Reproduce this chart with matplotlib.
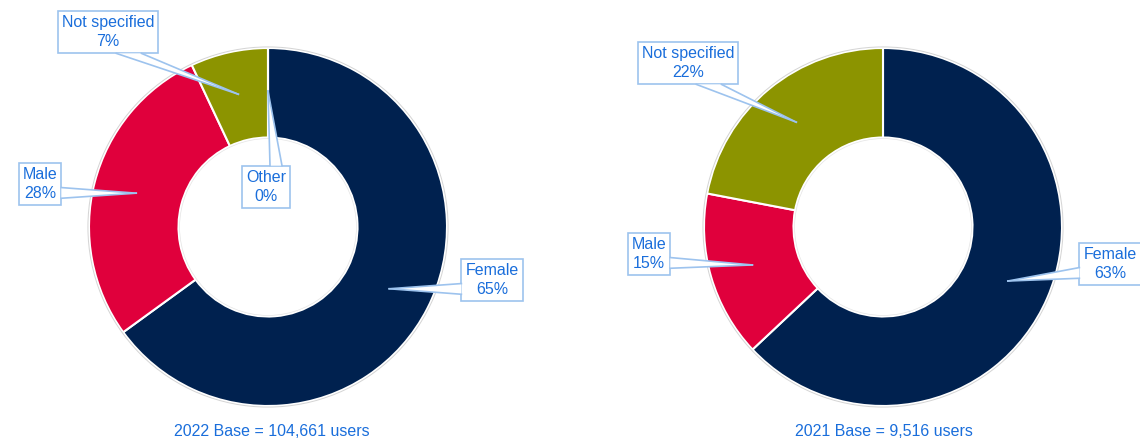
import matplotlib
matplotlib.use("Agg")
import numpy as np
import matplotlib.pyplot as plt
from matplotlib.patches import Polygon, Circle
from matplotlib.lines import Line2D

plt.rcParams["font.family"] = ["Liberation Sans", "DejaVu Sans"]

# ---------------------------------------------------------------------------
# Data
# ---------------------------------------------------------------------------
CATEGORIES_2022 = ["Female", "Male", "Not specified", "Other"]
SHARES_2022 = [65, 28, 7, 0]
CATEGORIES_2021 = ["Female", "Male", "Not specified"]
SHARES_2021 = [63, 15, 22]
CAPTION_2022 = "2022 Base = 104,661 users"
CAPTION_2021 = "2021 Base = 9,516 users"

# ---------------------------------------------------------------------------
# Style / layout (pixels, y measured from top of image)
# ---------------------------------------------------------------------------
COLORS = {"Female": "#00214F", "Male": "#E0003C",
          "Not specified": "#8C9400", "Other": "#8C8C8C"}
TEXT_BLUE = "#1A6EDB"
BOX_EDGE = "#9DC3EE"
FONT = 11.5

W, H = 1140, 441
R = 179  # outer radius in px

PANELS = [
    dict(cats=CATEGORIES_2022, vals=SHARES_2022, caption=CAPTION_2022,
         span=(0, 570), center=(268, 227), caption_xy=(272, 431),
         boxes={"Female": (492, 280), "Male": (40, 184),
                "Not specified": (108, 32), "Other": (266, 187)}),
    dict(cats=CATEGORIES_2021, vals=SHARES_2021, caption=CAPTION_2021,
         span=(570, 1140), center=(883, 227), caption_xy=(884, 432),
         boxes={"Female": (1110, 264), "Male": (649, 254),
                "Not specified": (688, 63)}),
]

fig = plt.figure(figsize=(W / 100, H / 100), dpi=100)

callouts = []
for p in PANELS:
    x0, x1 = p["span"]
    cx, cy_top = p["center"]
    cy = H - cy_top
    ax = fig.add_axes([x0 / W, 0, (x1 - x0) / W, 1])

    def px(x, y_top, cx=cx, cy=cy):
        return (x - cx) / R, (H - y_top - cy) / R

    wedges, _ = ax.pie(p["vals"], colors=[COLORS[c] for c in p["cats"]],
                       startangle=90, counterclock=False, radius=1,
                       wedgeprops=dict(width=0.5, edgecolor="white", linewidth=1.5))
    ax.add_patch(Circle((0, 0), 1.006, fill=False, ec="#d4d4d4", lw=0.7))
    ax.add_patch(Circle((0, 0), 0.494, fill=False, ec="#e4e4e4", lw=0.5))
    ax.set_aspect("auto")
    ax.set_xlim(-(cx - x0) / R, (x1 - cx) / R)
    ax.set_ylim(-cy / R, (H - cy) / R)
    ax.axis("off")

    total = sum(p["vals"])
    for cat, val, w in zip(p["cats"], p["vals"], wedges):
        mid = np.deg2rad((w.theta1 + w.theta2) / 2)
        tip = (0.76 * np.cos(mid), 0.76 * np.sin(mid))
        bx, by = px(*p["boxes"][cat])
        t = ax.text(bx, by, f"{cat}\n{round(val / total * 100):.0f}%",
                    ha="center", va="center", color=TEXT_BLUE, fontsize=FONT,
                    linespacing=1.4, zorder=5, clip_on=False,
                    bbox=dict(boxstyle="square,pad=0.25", fc="white",
                              ec=BOX_EDGE, lw=1.2))
        callouts.append((ax, t, tip))

    fig.text(p["caption_xy"][0] / W, 1 - p["caption_xy"][1] / H, p["caption"],
             ha="center", va="center", color=TEXT_BLUE, fontsize=FONT)

# wedge-shaped callout pointers (Excel wedgeRectCallout geometry)
fig.canvas.draw()
renderer = fig.canvas.get_renderer()
for ax, t, tip in callouts:
    bb = t.get_bbox_patch().get_window_extent(renderer)
    l, b, r, tp = bb.x0, bb.y0, bb.x1, bb.y1
    w, h = r - l, tp - b
    hc, vc = (l + r) / 2, (b + tp) / 2
    tx, ty = ax.transData.transform(tip)
    dx, dy = tx - hc, ty - vc
    if abs(dy) - abs(dx * h / w) > 0:
        yb = tp if dy > 0 else b
        f1, f2 = (7 / 12, 10 / 12) if dx > 0 else (2 / 12, 5 / 12)
        p1, p2 = (l + w * f1, yb), (l + w * f2, yb)
    else:
        xb = r if dx > 0 else l
        f1, f2 = (7 / 12, 10 / 12) if dy < 0 else (2 / 12, 5 / 12)
        p1, p2 = (xb, tp - h * f1), (xb, tp - h * f2)
    inv = ax.transData.inverted()
    q1, q2, qt = inv.transform([p1, p2, (tx, ty)])
    ax.add_patch(Polygon([q1, qt, q2], closed=True, fc="white", ec="none",
                         zorder=6, clip_on=False))
    for q in (q1, q2):
        ax.add_line(Line2D([q[0], qt[0]], [q[1], qt[1]], color=BOX_EDGE,
                           lw=1.2, zorder=7, clip_on=False))

fig.savefig("out.png", dpi=100)
